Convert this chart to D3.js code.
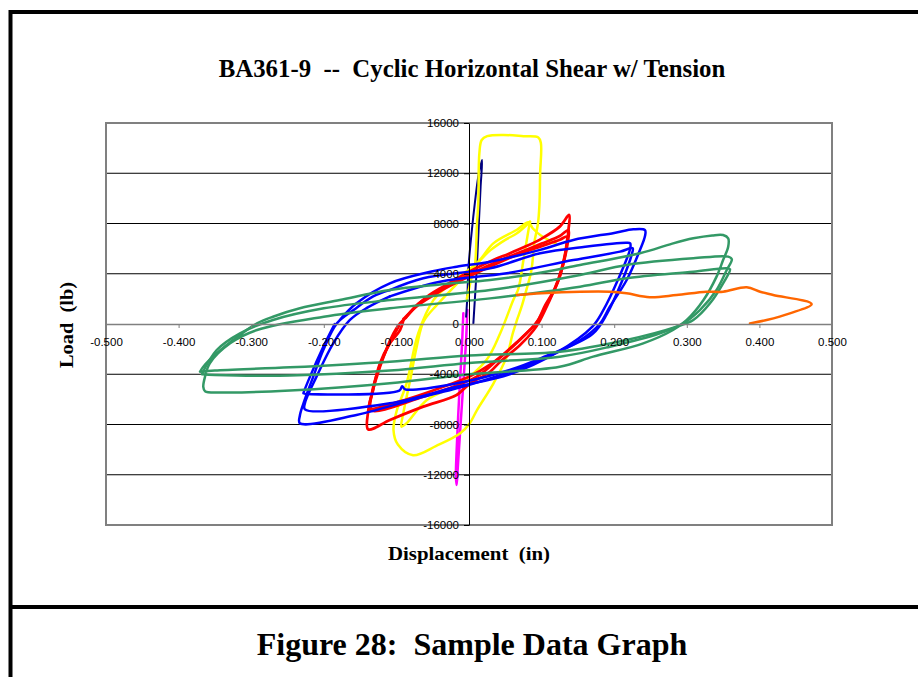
<!DOCTYPE html>
<html>
<head>
<meta charset="utf-8">
<script src="https://cdn.jsdelivr.net/npm/d3@7"></script>
<style>
  body { margin: 0; background: #fff; }
  svg { display: block; }
</style>
</head>
<body>
<svg id="chart"></svg>
<script>
const width = 918, height = 677;

// axis ticks
const xTicks = [-0.5, -0.4, -0.3, -0.2, -0.1, 0, 0.1, 0.2, 0.3, 0.4, 0.5];
const yTicks = [-16000, -12000, -8000, -4000, 0, 4000, 8000, 12000, 16000];

// [displacement (in), load (lb)], one array per colour
const magentaLoop = [
  [-0.0078, 850], [-0.010, -2070], [-0.0138, -6050], [-0.017, -10030], [-0.018, -12150],
  [-0.017, -12810], [-0.0155, -11500], [-0.0124, -8700], [-0.0078, -4720], [-0.004, -1270], [-0.0023, 1110]
];

const navyLoop = [
  [-0.004, 580], [-0.002, 2500], [-0.001, 4300], [0.004, 7500], [0.008, 9600], [0.013, 11800],
  [0.018, 13050], [0.016, 10930], [0.0138, 8280], [0.0106, 4300], [0.008, 1900], [0.006, 50]
];

const yellowLoops = [
  [[-0.003, 2000], [0.004, 3800], [0.008, 4600], [0.011, 8000], [0.0128, 9600], [0.0143, 13600],
   [0.0175, 14650], [0.025, 14950], [0.047, 15050], [0.075, 14950], [0.0955, 14850], [0.099, 14400],
   [0.098, 12000], [0.097, 9500], [0.095, 8000], [0.09, 6500], [0.086, 4300], [0.078, 2500],
   [0.072, 1300], [0.066, 300], [0.060, -800], [0.052, -2600], [0.034, -4700], [0.011, -6850],
   [0.001, -7900], [-0.012, -8700], [-0.045, -9700], [-0.077, -10450], [-0.098, -9600],
   [-0.104, -8450], [-0.1, -7000], [-0.086, -4720], [-0.07, -740], [-0.049, 1900], [-0.03, 3000],
   [-0.01, 3900], [0.0106, 4830], [0.03, 5900], [0.05, 6700], [0.066, 7220], [0.084, 8140]],
  [[0.084, 8140], [0.082, 7500], [0.075, 5100], [0.068, 2800], [0.061, 1910], [0.043, -740],
   [0.024, -2870], [-0.012, -4720], [-0.058, -6050], [-0.086, -7900], [-0.093, -8170],
   [-0.0905, -7110], [-0.081, -4460], [-0.072, -1810], [-0.0625, 200], [-0.0445, 1500],
   [-0.02, 3000], [0.015, 5100], [0.0335, 6420], [0.066, 7500], [0.082, 8100], [0.088, 7600],
   [0.1, 7000], [0.12, 6400]]
];

const redLoops = [
  [[-0.09, 320], [-0.075, 1300], [-0.058, 2170], [-0.035, 3000], [-0.012, 3770], [0.01, 4450],
   [0.0335, 5100], [0.055, 5600], [0.079, 6200], [0.1, 6800], [0.125, 7750], [0.138, 8680],
   [0.137, 7500], [0.134, 6000], [0.125, 3770], [0.115, 2400], [0.107, 1380], [0.098, 320],
   [0.089, -500], [0.07, -1700], [0.043, -3000], [0.029, -3800], [0.0, -4800], [-0.017, -5650],
   [-0.063, -6580], [-0.109, -7640], [-0.139, -8380], [-0.139, -7000], [-0.136, -6050],
   [-0.1226, -3400], [-0.104, -740], [-0.095, 50], [-0.087, 500]],
  [[-0.087, 500], [-0.07, 1600], [-0.05, 2400], [-0.02, 3300], [0.01, 4200], [0.04, 5000],
   [0.07, 5700], [0.1, 6400], [0.125, 7000], [0.137, 7480], [0.136, 6500], [0.13, 4800],
   [0.12, 3000], [0.105, 1500], [0.095, 300], [0.085, -400], [0.065, -1500], [0.04, -2800],
   [0.0106, -4190], [-0.063, -5790], [-0.136, -6850], [-0.132, -5250], [-0.1226, -3130],
   [-0.109, -1540], [-0.095, -480], [-0.09, 400]],
  [[-0.09, 400], [-0.07, 1500], [-0.04, 2600], [-0.01, 3500], [0.03, 4600], [0.07, 5600],
   [0.1, 6200], [0.125, 6700], [0.1345, 6950], [0.134, 6200], [0.128, 4500], [0.118, 2800],
   [0.102, 1000], [0.092, 0], [0.08, -700], [0.06, -1800], [0.03, -3200], [0.0, -4200],
   [-0.04, -5100], [-0.08, -5900], [-0.11, -6400], [-0.135, -6700], [-0.134, -5600],
   [-0.124, -3500], [-0.11, -1600], [-0.097, -200]]
];

const blueLoops = [
  [[-0.178, 320], [-0.155, 1650], [-0.109, 3240], [-0.05, 4200], [-0.017, 4560], [0.029, 4960],
   [0.098, 5900], [0.1437, 6690], [0.2, 7250], [0.2264, 7540], [0.2424, 7480], [0.2424, 7000],
   [0.2355, 5890], [0.2172, 3500], [0.194, 1380], [0.18, 0], [0.153, -1300], [0.098, -2870],
   [0.052, -3900], [-0.017, -5120], [-0.063, -5790], [-0.155, -7240], [-0.233, -7900],
   [-0.233, -7300], [-0.228, -6310], [-0.2145, -4190], [-0.2007, -2070], [-0.182, 50],
   [-0.159, 1110], [-0.132, 2200], [-0.109, 2700]],
  [[-0.109, 2700], [-0.063, 3640], [0.029, 4430], [0.098, 5630], [0.16, 6150], [0.2172, 6470],
   [0.222, 6420], [0.222, 6000], [0.205, 3500], [0.185, 1100], [0.17, -200], [0.12, -2300],
   [0.056, -4000], [-0.017, -5000], [-0.109, -6310], [-0.226, -6790], [-0.226, -6300],
   [-0.21, -4190], [-0.187, -1540], [-0.164, 320], [-0.14, 1300], [-0.109, 2200]],
  [[-0.109, 2200], [-0.04, 3370], [0.052, 4040], [0.1437, 5090], [0.208, 5760], [0.2254, 6030],
   [0.224, 5500], [0.21, 3300], [0.19, 800], [0.17, -800], [0.1, -2700], [0.056, -3660],
   [-0.017, -4720], [-0.088, -5200], [-0.092, -4950], [-0.096, -5300], [-0.228, -5520],
   [-0.228, -5500], [-0.219, -4190], [-0.2007, -1810], [-0.185, 0]]
];

const greenLoops = [
  [[-0.3705, -3800], [-0.366, -3400], [-0.3475, -2330], [-0.325, -1270], [-0.292, 50], [-0.27, 580],
   [-0.233, 1250], [-0.178, 1910], [-0.109, 2710], [-0.04, 3150], [0.029, 3500], [0.09, 4000],
   [0.153, 4700], [0.2355, 5630], [0.28, 6400], [0.309, 6820], [0.335, 7050], [0.350, 7080],
   [0.357, 6820], [0.357, 6150], [0.350, 5090], [0.341, 3770], [0.323, 1910], [0.300, 320],
   [0.281, -480], [0.240, -1540], [0.171, -2600], [0.125, -3400], [0.0, -4000], [-0.109, -4720],
   [-0.2466, -5300], [-0.34, -5450], [-0.3636, -5350], [-0.366, -5000], [-0.3636, -4190],
   [-0.357, -3130], [-0.329, -1540], [-0.292, -480], [-0.2, 580], [-0.109, 1250], [0.029, 2040],
   [0.153, 2970], [0.217, 3640], [0.309, 4160], [0.355, 4430], [0.3595, 4350], [0.350, 3240],
   [0.332, 1650], [0.309, 320], [0.286, -210], [0.217, -1270], [0.125, -2200], [0.0, -2500],
   [-0.109, -3000], [-0.2466, -3450], [-0.35, -3700], [-0.3705, -3800]],
  [[-0.368, -4000], [-0.3475, -2070], [-0.3154, -740], [-0.27, 320], [-0.2, 1250], [-0.109, 1910],
   [0.029, 2700], [0.153, 3900], [0.217, 4700], [0.309, 5230], [0.357, 5360], [0.362, 5150],
   [0.355, 4300], [0.341, 2710], [0.318, 1110], [0.295, 50], [0.263, -740], [0.194, -1810],
   [0.125, -2600], [0.0, -3100], [-0.109, -3700], [-0.2466, -4100], [-0.35, -4050], [-0.368, -4000]]
];

const orangeTail = [
  [0.066, 2310], [0.10, 2450], [0.153, 2570], [0.194, 2570], [0.217, 2440], [0.249, 2130],
  [0.286, 2310], [0.327, 2570], [0.350, 2570], [0.3825, 2920], [0.401, 2570], [0.419, 2310],
  [0.472, 1590], [0.442, 850], [0.41, 320], [0.387, 50]
];

const series = [
  { loops: [magentaLoop], color: "#FF00FF", w: 2.5 },
  { loops: [navyLoop], color: "#000080", w: 2 },
  { loops: yellowLoops, color: "#FFFF00", w: 2.5 },
  { loops: redLoops, color: "#FF0000", w: 2.75 },
  { loops: blueLoops, color: "#0000FF", w: 2.5 },
  { loops: greenLoops, color: "#339966", w: 2.5 },
  { loops: [orangeTail], color: "#FF6600", w: 2.5 }
];

const plot = { left: 106, right: 832, top: 123, bottom: 525 };

const svg = d3.select("#chart")
  .attr("width", width)
  .attr("height", height)
  .attr("viewBox", [0, 0, width, height]);

svg.append("rect").attr("width", width).attr("height", height).attr("fill", "#fff");

const x = d3.scaleLinear().domain([-0.5, 0.5]).range([plot.left, plot.right]);
const y = d3.scaleLinear().domain([-16000, 16000]).range([plot.bottom, plot.top]);

// outer frame and divider
svg.append("path")
  .attr("d", `M${width + 5},12 H10.5 V${height + 5}`)
  .attr("fill", "none").attr("stroke", "#000").attr("stroke-width", 4);
svg.append("line")
  .attr("x1", 10).attr("x2", width + 5).attr("y1", 607).attr("y2", 607)
  .attr("stroke", "#000").attr("stroke-width", 4);

// horizontal gridlines
svg.append("g")
  .selectAll("line")
  .data(yTicks.filter(d => d !== 0 && Math.abs(d) < 16000))
  .join("line")
  .attr("x1", plot.left).attr("x2", plot.right)
  .attr("y1", d => y(d)).attr("y2", d => y(d))
  .attr("stroke", "#000").attr("stroke-width", 1);

// plot border
svg.append("rect")
  .attr("x", plot.left).attr("y", plot.top)
  .attr("width", plot.right - plot.left).attr("height", plot.bottom - plot.top)
  .attr("fill", "none").attr("stroke", "#808080").attr("stroke-width", 2);

// data
const line = d3.line()
  .x(d => x(d[0])).y(d => y(d[1]))
  .curve(d3.curveCatmullRom.alpha(0.5));

const dataG = svg.append("g");
series.forEach(s => {
  dataG.append("g")
    .selectAll("path")
    .data(s.loops)
    .join("path")
    .attr("d", line)
    .attr("fill", "none")
    .attr("stroke", s.color)
    .attr("stroke-width", s.w)
    .attr("stroke-linejoin", "round")
    .attr("stroke-linecap", "round");
});

// x axis through load = 0
const xAxis = svg.append("g")
  .attr("transform", `translate(0,${y(0)})`)
  .call(d3.axisBottom(x).tickValues(xTicks).tickSize(4).tickSizeOuter(0).tickPadding(10)
    .tickFormat(d => d.toFixed(3)));
xAxis.select(".domain").attr("stroke", "#808080").attr("stroke-width", 1.5);
xAxis.selectAll(".tick line").attr("stroke", "#808080");

// y axis through displacement = 0
const yAxis = svg.append("g")
  .attr("transform", `translate(${x(0)},0)`)
  .call(d3.axisLeft(y).tickValues(yTicks).tickSize(5).tickSizeOuter(0).tickPadding(5)
    .tickFormat(d => String(d)));
yAxis.select(".domain").attr("stroke", "#000");

svg.selectAll(".tick text")
  .attr("font-family", "Arial, 'Liberation Sans', sans-serif")
  .attr("font-size", 11.5)
  .attr("fill", "#000");

// titles
const serif = "'Times New Roman', 'Liberation Serif', serif";
svg.append("text")
  .attr("x", 472).attr("y", 77)
  .attr("text-anchor", "middle")
  .attr("font-family", serif).attr("font-weight", "bold").attr("font-size", 24.8)
  .style("white-space", "pre")
  .text("BA361-9  --  Cyclic Horizontal Shear w/ Tension");

svg.append("text")
  .attr("x", 469).attr("y", 560)
  .attr("text-anchor", "middle")
  .attr("font-family", serif).attr("font-weight", "bold").attr("font-size", 19)
  .attr("textLength", 162).attr("lengthAdjust", "spacingAndGlyphs")
  .style("white-space", "pre")
  .text("Displacement  (in)");

svg.append("text")
  .attr("transform", "translate(73,325) rotate(-90)")
  .attr("text-anchor", "middle")
  .attr("font-family", serif).attr("font-weight", "bold").attr("font-size", 19)
  .attr("textLength", 86).attr("lengthAdjust", "spacingAndGlyphs")
  .style("white-space", "pre")
  .text("Load  (lb)");

svg.append("text")
  .attr("x", 472).attr("y", 655)
  .attr("text-anchor", "middle")
  .attr("font-family", serif).attr("font-weight", "bold").attr("font-size", 32)
  .style("white-space", "pre")
  .text("Figure 28:  Sample Data Graph");
</script>
</body>
</html>
